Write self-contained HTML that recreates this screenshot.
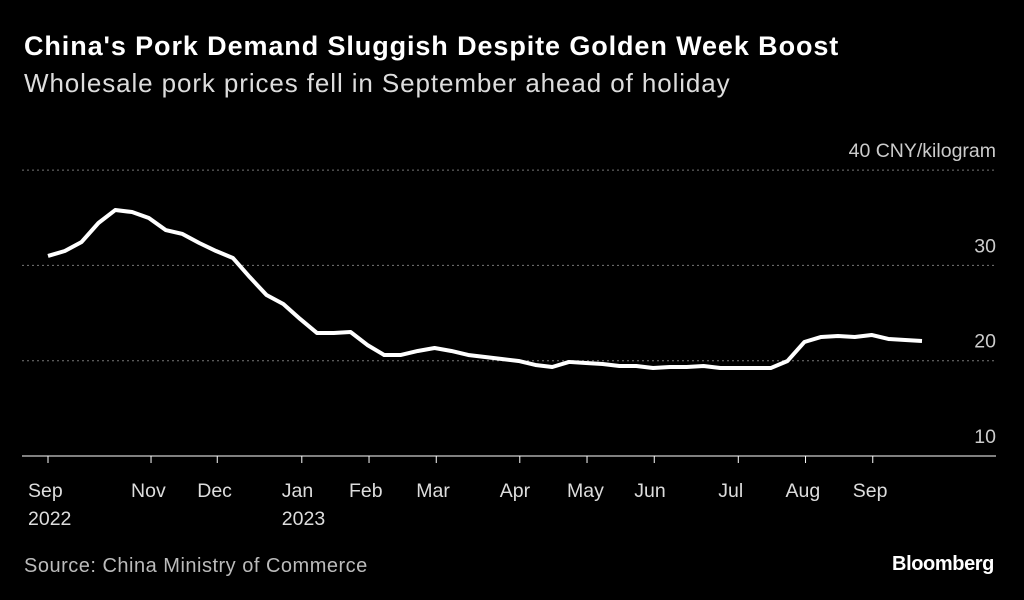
<!DOCTYPE html>
<html><head><meta charset="utf-8"><style>
body{margin:0;background:#000;width:1024px;height:600px;overflow:hidden;font-family:"Liberation Sans",sans-serif;color:#fff}
#title{position:absolute;left:24px;top:31px;font-size:27px;font-weight:bold;letter-spacing:0.9px;white-space:nowrap}
#sub{position:absolute;left:24px;top:68px;font-size:26px;color:#ddd;letter-spacing:0.9px;white-space:nowrap}
#src{position:absolute;left:24px;top:555px;font-size:20px;color:#bbb;letter-spacing:0.5px}
#logo{position:absolute;right:30px;top:553px;font-size:20px;font-weight:bold;letter-spacing:-0.4px}
svg{position:absolute;left:0;top:0}
</style></head><body>
<div id="title">China's Pork Demand Sluggish Despite Golden Week Boost</div>
<div id="sub">Wholesale pork prices fell in September ahead of holiday</div>
<svg id="chart" width="1024" height="600"></svg>
<div id="src">Source: China Ministry of Commerce</div>
<div id="logo">Bloomberg</div>
<script>
const values=[30.99,31.51,32.46,34.45,35.81,35.6,34.97,33.71,33.3,32.35,31.51,30.78,28.78,26.89,25.95,24.38,22.91,22.91,23.01,21.65,20.6,20.6,21.02,21.33,21.02,20.6,20.39,20.18,19.97,19.55,19.34,19.87,19.76,19.65,19.44,19.44,19.23,19.34,19.34,19.44,19.23,19.23,19.23,19.23,19.97,21.96,22.49,22.59,22.49,22.7,22.28,22.17,22.07];
const yTicks=[10,20,30,40];
const xTickLabels=[["Sep","2022"],["Nov",""],["Dec",""],["Jan","2023"],["Feb",""],["Mar",""],["Apr",""],["May",""],["Jun",""],["Jul",""],["Aug",""],["Sep",""]];
const xTickWeeks=[0,6.13,10.07,15.1,19.1,23.1,28.07,32.07,36.07,41.07,45.07,49.07];
const svg=document.getElementById('chart');const NS='http://www.w3.org/2000/svg';
const X=i=>48+i*(922-48)/(values.length-1);
const Y=v=>456-(v-10)*9.53;
function mk(t,a){const e=document.createElementNS(NS,t);for(const k in a)e.setAttribute(k,a[k]);svg.appendChild(e);return e;}
yTicks.forEach(v=>{
 const l=mk('line',{x1:22,x2:996,y1:Y(v),y2:Y(v),stroke:v===10?'#fff':'#777','stroke-width':1,'stroke-dasharray':v===10?'':'2,3'});
 
 
 const t=mk('text',{x:996,y:Y(v)-13,'text-anchor':'end',fill:'#ccc','font-size':19.5});
 t.textContent=v===40?'40 CNY/kilogram':v;
 
 
});
xTickWeeks.forEach((w,i)=>{
 const x=X(w);
 const l=mk('line',{x1:x,x2:x,y1:456,y2:463,stroke:'#fff'});
 
 
 const t=mk('text',{x:x-20,y:497,fill:'#ddd','font-size':19.5});
 t.textContent=xTickLabels[i][0];
 
 
 if(xTickLabels[i][1]){const t2=mk('text',{x:x-20,y:525,fill:'#ddd','font-size':19.5});t2.textContent=xTickLabels[i][1];
 
 }
});
const p=mk('polyline',{points:values.map((v,i)=>X(i)+','+Y(v)).join(' '),fill:'none',stroke:'#fff','stroke-width':4,'stroke-linejoin':'round'});


</script>
</body></html>
